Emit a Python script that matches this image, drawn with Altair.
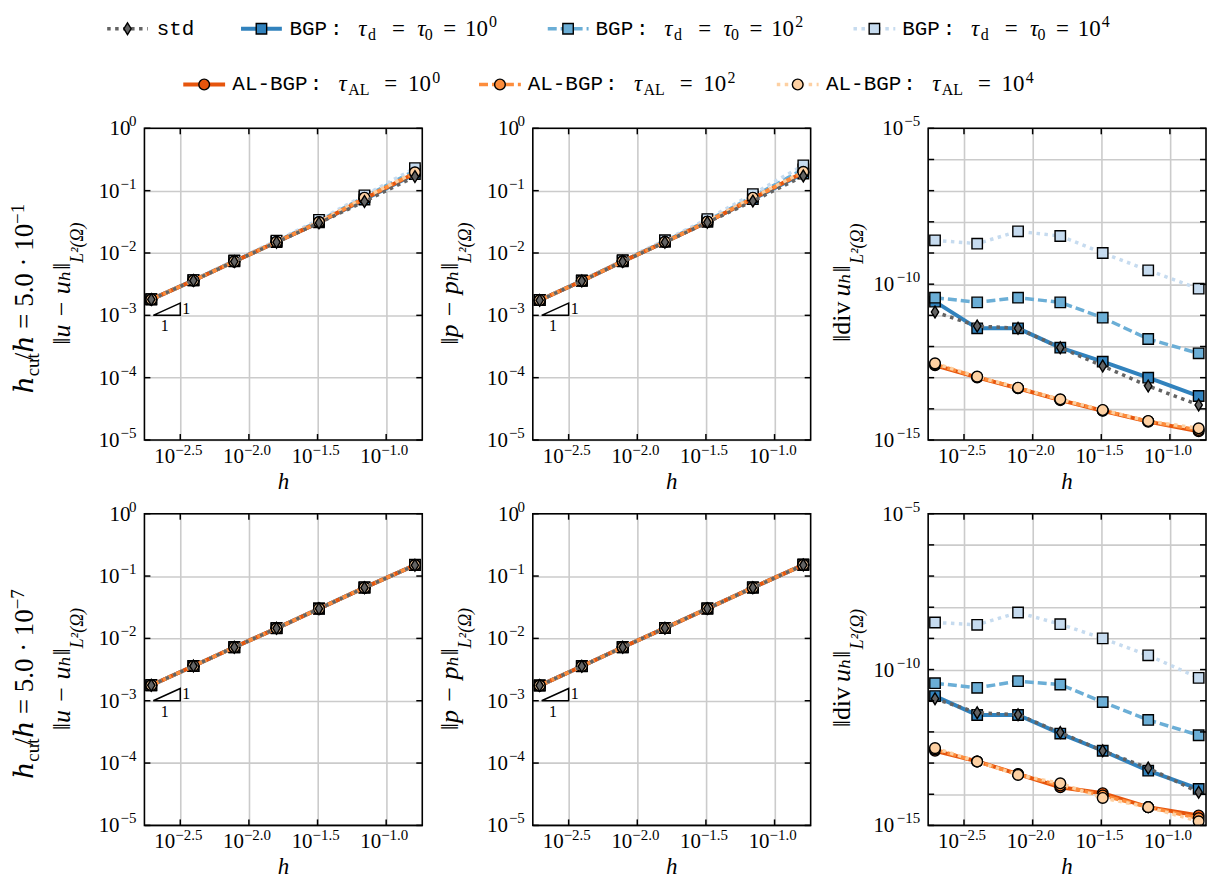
import altair as alt
import pandas as pd

# ---------------- data ----------------
h_vals = [1.945e-3, 3.945e-3, 7.83e-3, 1.59e-2, 3.24e-2, 6.95e-2, 1.62e-1]

# row 1 : h_cut/h = 5.0e-1
u1_std  = [1.80e-3, 3.62e-3, 7.30e-3, 1.49e-2, 3.04e-2, 6.7e-2, 1.68e-1]
u1_bgp0 = [1.80e-3, 3.63e-3, 7.34e-3, 1.50e-2, 3.10e-2, 7.2e-2, 1.85e-1]
u1_bgp2 = [1.80e-3, 3.65e-3, 7.45e-3, 1.54e-2, 3.25e-2, 7.9e-2, 2.10e-1]
u1_bgp4 = [1.81e-3, 3.68e-3, 7.60e-3, 1.58e-2, 3.40e-2, 8.4e-2, 2.30e-1]
u1_al0  = [1.80e-3, 3.62e-3, 7.32e-3, 1.50e-2, 3.10e-2, 7.4e-2, 1.90e-1]
u1_al2  = [1.80e-3, 3.62e-3, 7.33e-3, 1.50e-2, 3.12e-2, 7.6e-2, 1.94e-1]
u1_al4  = [1.80e-3, 3.63e-3, 7.34e-3, 1.51e-2, 3.14e-2, 7.7e-2, 1.97e-1]

p1_std  = [1.74e-3, 3.55e-3, 7.30e-3, 1.49e-2, 3.10e-2, 6.8e-2, 1.72e-1]
p1_bgp0 = [1.75e-3, 3.57e-3, 7.35e-3, 1.51e-2, 3.17e-2, 7.3e-2, 1.88e-1]
p1_bgp2 = [1.76e-3, 3.60e-3, 7.50e-3, 1.55e-2, 3.30e-2, 8.0e-2, 2.20e-1]
p1_bgp4 = [1.77e-3, 3.63e-3, 7.65e-3, 1.60e-2, 3.50e-2, 8.8e-2, 2.55e-1]
p1_al0  = [1.75e-3, 3.56e-3, 7.33e-3, 1.50e-2, 3.15e-2, 7.5e-2, 1.95e-1]
p1_al2  = [1.75e-3, 3.56e-3, 7.34e-3, 1.50e-2, 3.17e-2, 7.6e-2, 1.98e-1]
p1_al4  = [1.75e-3, 3.57e-3, 7.35e-3, 1.51e-2, 3.20e-2, 7.7e-2, 2.00e-1]

d1_std  = [1.28e-11, 4.55e-12, 3.83e-12, 9.18e-13, 2.37e-13, 5.41e-14, 1.33e-14]
d1_bgp0 = [2.75e-11, 3.83e-12, 3.83e-12, 9.18e-13, 3.26e-13, 1.00e-13, 2.58e-14]
d1_bgp2 = [3.69e-11, 2.61e-11, 3.69e-11, 2.61e-11, 8.41e-12, 1.74e-12, 6.04e-13]
d1_bgp4 = [2.55e-9, 1.99e-9, 4.95e-9, 3.51e-9, 1.00e-9, 2.78e-10, 7.18e-11]
d1_al0  = [2.51e-13, 1.02e-13, 4.57e-14, 1.91e-14, 8.71e-15, 3.89e-15, 1.91e-15]
d1_al2  = [2.69e-13, 1.05e-13, 4.68e-14, 1.95e-14, 8.91e-15, 3.98e-15, 2.09e-15]
d1_al4  = [2.88e-13, 1.08e-13, 4.78e-14, 2.02e-14, 9.18e-15, 4.07e-15, 2.37e-15]

# row 2 : h_cut/h = 5.0e-7
u2_std  = [1.77e-3, 3.60e-3, 7.20e-3, 1.45e-2, 2.99e-2, 6.50e-2, 1.49e-1]
u2_bgp0 = [1.77e-3, 3.60e-3, 7.21e-3, 1.45e-2, 3.00e-2, 6.52e-2, 1.50e-1]
u2_bgp2 = [1.77e-3, 3.61e-3, 7.22e-3, 1.46e-2, 3.01e-2, 6.55e-2, 1.51e-1]
u2_bgp4 = [1.78e-3, 3.61e-3, 7.23e-3, 1.46e-2, 3.02e-2, 6.58e-2, 1.52e-1]
u2_al0  = [1.77e-3, 3.60e-3, 7.20e-3, 1.45e-2, 2.99e-2, 6.51e-2, 1.50e-1]
u2_al2  = [1.77e-3, 3.60e-3, 7.20e-3, 1.45e-2, 3.00e-2, 6.51e-2, 1.50e-1]
u2_al4  = [1.77e-3, 3.60e-3, 7.21e-3, 1.45e-2, 3.00e-2, 6.52e-2, 1.50e-1]

p2_std  = [1.75e-3, 3.57e-3, 7.20e-3, 1.46e-2, 3.00e-2, 6.50e-2, 1.50e-1]
p2_bgp0 = [1.75e-3, 3.57e-3, 7.21e-3, 1.46e-2, 3.01e-2, 6.52e-2, 1.51e-1]
p2_bgp2 = [1.76e-3, 3.58e-3, 7.22e-3, 1.47e-2, 3.02e-2, 6.55e-2, 1.52e-1]
p2_bgp4 = [1.76e-3, 3.58e-3, 7.23e-3, 1.47e-2, 3.03e-2, 6.58e-2, 1.53e-1]
p2_al0  = [1.75e-3, 3.57e-3, 7.20e-3, 1.46e-2, 3.00e-2, 6.51e-2, 1.51e-1]
p2_al2  = [1.75e-3, 3.57e-3, 7.20e-3, 1.46e-2, 3.01e-2, 6.51e-2, 1.51e-1]
p2_al4  = [1.75e-3, 3.57e-3, 7.21e-3, 1.46e-2, 3.01e-2, 6.52e-2, 1.51e-1]

d2_std  = [1.16e-11, 4.14e-12, 3.57e-12, 9.53e-13, 2.48e-13, 6.92e-14, 1.16e-14]
d2_bgp0 = [1.41e-11, 3.49e-12, 3.49e-12, 8.85e-13, 2.48e-13, 5.69e-14, 1.48e-14]
d2_bgp2 = [3.66e-11, 2.60e-11, 4.25e-11, 3.32e-11, 9.06e-12, 2.42e-12, 7.83e-13]
d2_bgp4 = [3.24e-9, 2.73e-9, 6.76e-9, 2.86e-9, 1.00e-9, 2.86e-10, 5.42e-11]
d2_al0  = [2.48e-13, 1.13e-13, 4.46e-14, 1.67e-14, 1.08e-14, 3.85e-15, 2.08e-15]
d2_al2  = [2.75e-13, 1.12e-13, 4.37e-14, 1.91e-14, 9.12e-15, 3.85e-15, 1.70e-15]
d2_al4  = [3.02e-13, 1.12e-13, 4.17e-14, 2.24e-14, 7.59e-15, 3.85e-15, 1.35e-15]

row_mantissa = ["5.0", "5.0"]
row_exponent = ["\u22121", "\u22127"]

x_ticks = [10 ** -2.5, 10 ** -2.0, 10 ** -1.5, 10 ** -1.0]
x_tick_exp = ["\u22122.5", "\u22122.0", "\u22121.5", "\u22121.0"]
err_ticks = [1.0, 1e-1, 1e-2, 1e-3, 1e-4, 1e-5]
err_tick_exp = ["0", "\u22121", "\u22122", "\u22123", "\u22124", "\u22125"]
div_grid = [1e-5, 1e-6, 1e-7, 1e-8, 1e-9, 1e-10, 1e-11, 1e-12, 1e-13, 1e-14, 1e-15]
div_ticks = [1e-5, 1e-10, 1e-15]
div_tick_exp = ["\u22125", "\u221210", "\u221215"]

slope_h = [10 ** -2.697, 10 ** -2.5, 10 ** -2.5, 10 ** -2.697]
slope_v = [1e-3, 1e-3, 10 ** -2.803, 1e-3]

# ---------------- styling ----------------
W, H = 279, 313
XDOM = [10 ** -2.761, 10 ** -0.737]
SERIF = "Liberation Serif, DejaVu Serif, serif"
MONO = "Liberation Mono, DejaVu Sans Mono, monospace"
GRID_C = "#cbcbcb"
DIAMOND = "M0,-1L0.62,0L0,1L-0.62,0Z"
ORDER = ["bgp0", "bgp2", "bgp4", "al0", "al2", "al4", "std"]
DOT = [3.5, 4.5]
DASH = [9, 4]
STYLE = {
    "std":  dict(color="#636363", lw=3.5, dash=DOT,  shape=DIAMOND, size=140),
    "bgp0": dict(color="#3182bd", lw=4.0, dash=None, shape="square", size=110),
    "bgp2": dict(color="#6baed6", lw=3.5, dash=DASH, shape="square", size=110),
    "bgp4": dict(color="#c6dbef", lw=3.5, dash=DOT,  shape="square", size=110),
    "al0":  dict(color="#e6550d", lw=4.0, dash=None, shape="circle", size=115),
    "al2":  dict(color="#fd8d3c", lw=3.5, dash=DASH, shape="circle", size=115),
    "al4":  dict(color="#fdd0a2", lw=3.5, dash=DOT,  shape="circle", size=115),
}

ONE = pd.DataFrame({"k": [0]})


def label(x, y, text, size, style="normal", align="center", baseline="middle",
          angle=0, font=SERIF):
    kw = dict(align=align, baseline=baseline, fontSize=size, font=font,
              fontStyle=style, color="black")
    if angle:
        kw["angle"] = angle
    return alt.Chart(ONE).mark_text(**kw).encode(
        x=alt.value(x), y=alt.value(y), text=alt.value(text))


def line_kw(s):
    st = STYLE[s]
    kw = dict(color=st["color"], strokeWidth=st["lw"])
    if st["dash"]:
        kw["strokeDash"] = st["dash"]
    return kw


def point_kw(s):
    st = STYLE[s]
    return dict(shape=st["shape"], size=st["size"], filled=True, fill=st["color"],
                stroke="black", strokeWidth=1.4, opacity=1, fillOpacity=1,
                strokeOpacity=1)


def panel(vals, kind, row, col):
    is_div = kind == "div"
    ydom = [1e-15, 1e-5] if is_div else [1e-5, 1.0]
    ygrid = div_grid if is_div else err_ticks
    xs = alt.X("h:Q", scale=alt.Scale(type="log", domain=XDOM, nice=False),
               axis=alt.Axis(values=x_ticks, grid=True, labels=False, ticks=False,
                             domain=False, title=None, gridColor=GRID_C,
                             gridWidth=1.6, gridOpacity=1))
    ys = alt.Y("v:Q", scale=alt.Scale(type="log", domain=ydom, nice=False),
               axis=alt.Axis(values=ygrid, grid=True, labels=False, ticks=False,
                             domain=False, title=None, gridColor=GRID_C,
                             gridWidth=1.6, gridOpacity=1))
    layers = []
    for s in ORDER:
        df = pd.DataFrame({"h": h_vals, "v": vals[s]})
        layers.append(alt.Chart(df).mark_line(clip=True, **line_kw(s)).encode(x=xs, y=ys))
        layers.append(alt.Chart(df).mark_point(clip=True, **point_kw(s)).encode(x=xs, y=ys))

    # slope triangle
    if not is_div:
        tri = pd.DataFrame({"h": slope_h, "v": slope_v, "i": list(range(4))})
        layers.append(alt.Chart(tri).mark_line(color="black", strokeWidth=1.5).encode(
            x=xs, y=ys, order="i:O"))
        layers.append(alt.Chart(pd.DataFrame({"h": [slope_h[1]], "v": [10 ** -2.891]}))
                      .mark_text(align="left", baseline="middle", dx=2, fontSize=16,
                                 font=SERIF, color="black")
                      .encode(x=xs, y=ys, text=alt.value("1")))
        layers.append(alt.Chart(pd.DataFrame({"h": [10 ** -2.614], "v": [1e-3]}))
                      .mark_text(align="center", baseline="middle", dy=11, fontSize=16,
                                 font=SERIF, color="black")
                      .encode(x=xs, y=ys, text=alt.value("1")))

    # inward ticks on all four sides
    ytk = pd.DataFrame({"v": ygrid})
    xtk = pd.DataFrame({"h": x_ticks})
    layers.append(alt.Chart(ytk).mark_rule(color="black", strokeWidth=1.5).encode(
        y=ys, x=alt.value(0), x2=alt.value(6)))
    layers.append(alt.Chart(ytk).mark_rule(color="black", strokeWidth=1.5).encode(
        y=ys, x=alt.value(W - 6), x2=alt.value(W)))
    layers.append(alt.Chart(xtk).mark_rule(color="black", strokeWidth=1.5).encode(
        x=xs, y=alt.value(H - 6), y2=alt.value(H)))
    layers.append(alt.Chart(xtk).mark_rule(color="black", strokeWidth=1.5).encode(
        x=xs, y=alt.value(0), y2=alt.value(6)))

    # frame
    layers.append(alt.Chart(ONE).mark_rect(filled=False, stroke="black", strokeWidth=1.6)
                  .encode(x=alt.value(0), x2=alt.value(W), y=alt.value(0), y2=alt.value(H)))

    # x tick labels
    xl = pd.DataFrame({"h": x_ticks, "e": x_tick_exp})
    layers.append(alt.Chart(xl).mark_text(align="right", baseline="middle", dx=-5,
                                          fontSize=21, font=SERIF, color="black")
                  .encode(x=xs, y=alt.value(H + 17), text=alt.value("10")))
    layers.append(alt.Chart(xl).mark_text(align="left", baseline="middle", dx=-5,
                                          fontSize=15, font=SERIF, color="black")
                  .encode(x=xs, y=alt.value(H + 10), text="e:N"))

    # y tick labels
    if is_div:
        yl = pd.DataFrame({"v": div_ticks, "e": div_tick_exp})
    else:
        yl = pd.DataFrame({"v": err_ticks, "e": err_tick_exp})
    yl["n"] = yl["e"].str.len()
    base_x = {1: -14, 2: -25, 3: -34}
    for n, grp in yl.groupby("n"):
        layers.append(alt.Chart(grp).mark_text(align="right", baseline="middle", dy=1,
                                               fontSize=21, font=SERIF, color="black")
                      .encode(y=ys, x=alt.value(base_x[int(n)]), text=alt.value("10")))
    layers.append(alt.Chart(yl).mark_text(align="right", baseline="middle", dy=-7,
                                          fontSize=15, font=SERIF, color="black")
                  .encode(y=ys, x=alt.value(-8), text="e:N"))

    # x title
    layers.append(label(W / 2, H + 42, "h", 23, style="italic"))

    # y title
    if kind == "u" or kind == "p":
        main = "\u2016u \u2212 u\u2095\u2016" if kind == "u" else "\u2016p \u2212 p\u2095\u2016"
        layers.append(label(-75, 135, main, 26, style="italic", align="right",
                            baseline="alphabetic", angle=270))
        layers.append(label(-62, 135, "L\u00b2(\u03a9)", 18, style="italic", align="left",
                            baseline="alphabetic", angle=270))
    else:
        layers.append(label(-78, 174, "\u2016div", 26, align="right",
                            baseline="alphabetic", angle=270))
        layers.append(label(-78, 169, "u\u2095\u2016", 26, style="italic", align="left",
                            baseline="alphabetic", angle=270))
        layers.append(label(-65, 136, "L\u00b2(\u03a9)", 18, style="italic", align="left",
                            baseline="alphabetic", angle=270))

    # row label
    if col == 0:
        layers.append(label(-112, 249, "\u210e", 27, align="right",
                            baseline="alphabetic", angle=270))
        layers.append(label(-106, 249, "cut", 19, align="left",
                            baseline="alphabetic", angle=270))
        layers.append(label(-112, 96, "/\u210e = " + row_mantissa[row] + " \u00b7 10", 27,
                            align="right", baseline="alphabetic", angle=270))
        layers.append(label(-121, 96, row_exponent[row], 19, align="left",
                            baseline="alphabetic", angle=270))

    return alt.layer(*layers).properties(width=W, height=H)


def series(std, b0, b2, b4, a0, a2, a4):
    return {"std": std, "bgp0": b0, "bgp2": b2, "bgp4": b4, "al0": a0, "al2": a2, "al4": a4}


# ---------------- legend ----------------
OX = 145  # page x of the first plot's left edge
Y1, Y2 = 16, 72
LEG = [
    ("std", Y1, 107.6, 148.3, 128.0, 157.4, "std", ""),
    ("bgp0", Y1, 242.0, 283.0, 262.5, 290.6, "bgp", "0"),
    ("bgp2", Y1, 550.0, 591.0, 570.4, 598.0, "bgp", "2"),
    ("bgp4", Y1, 857.0, 899.0, 878.0, 905.9, "bgp", "4"),
    ("al0", Y2, 184.0, 226.0, 205.0, 233.3, "al", "0"),
    ("al2", Y2, 481.0, 523.0, 502.0, 529.9, "al", "2"),
    ("al4", Y2, 780.0, 822.0, 801.0, 829.4, "al", "4"),
]


def pieces(kind, e):
    if kind == "std":
        return [("mono", "std", 0)]
    if kind == "bgp":
        return [("mono", "BGP", 0), ("monoc", ":", 47.0), ("it", "\u03c4", 73.2),
                ("sub", "d", 82.8), ("rm", "=", 109.6), ("it", "\u03c4", 132.5),
                ("sub", "0", 140.0), ("rm", "=", 161.0), ("rm", "10", 187.8),
                ("sup", e, 204.5)]
    return [("mono", "AL-BGP", 0), ("monoc", ":", 84.0), ("it", "\u03c4", 110.7),
            ("sub", "AL", 127.0), ("rm", "=", 159.1), ("rm", "10", 187.8),
            ("sup", e, 204.6)]


def legend():
    layers = [
        alt.Chart(ONE).mark_rect(color="white").encode(
            x=alt.value(-137), x2=alt.value(-136), y=alt.value(0), y2=alt.value(1)),
    ]
    for s, y, x1, x2, xm, xt, kind, e in LEG:
        layers.append(alt.Chart(ONE).mark_rule(**line_kw(s)).encode(
            x=alt.value(x1 - OX), x2=alt.value(x2 - OX), y=alt.value(y)))
        layers.append(alt.Chart(ONE).mark_point(**point_kw(s)).encode(
            x=alt.value(xm - OX), y=alt.value(y)))
        for sty, t, dx in pieces(kind, e):
            x = xt - OX + dx
            if sty == "mono":
                layers.append(label(x, y, t, 21, align="left", font=MONO))
            elif sty == "monoc":
                layers.append(label(x, y, t, 21, font=MONO))
            elif sty == "it":
                layers.append(label(x, y, t, 23, style="italic"))
            elif sty == "rm":
                layers.append(label(x, y, t, 23))
            elif sty == "sub":
                layers.append(label(x, y + 6, t, 16))
            else:
                layers.append(label(x, y - 7, t, 16))
    return alt.layer(*layers).properties(width=W, height=116)


def spacer(w, h):
    return alt.Chart(ONE).mark_point(opacity=0).encode(
        x=alt.value(0), y=alt.value(0)).properties(width=w, height=h)


GAP1, GAP2 = 110.3, 117.7

p11 = panel(series(u1_std, u1_bgp0, u1_bgp2, u1_bgp4, u1_al0, u1_al2, u1_al4), "u", 0, 0)
p12 = panel(series(p1_std, p1_bgp0, p1_bgp2, p1_bgp4, p1_al0, p1_al2, p1_al4), "p", 0, 1)
p13 = panel(series(d1_std, d1_bgp0, d1_bgp2, d1_bgp4, d1_al0, d1_al2, d1_al4), "div", 0, 2)
p21 = panel(series(u2_std, u2_bgp0, u2_bgp2, u2_bgp4, u2_al0, u2_al2, u2_al4), "u", 1, 0)
p22 = panel(series(p2_std, p2_bgp0, p2_bgp2, p2_bgp4, p2_al0, p2_al2, p2_al4), "p", 1, 1)
p23 = panel(series(d2_std, d2_bgp0, d2_bgp2, d2_bgp4, d2_al0, d2_al2, d2_al4), "div", 1, 2)

items = [
    legend(), spacer(1, 116), spacer(1, 116), spacer(1, 116), spacer(1, 116),
    p11, spacer(GAP1, 1), p12, spacer(GAP2, 1), p13,
    spacer(1, 73.5), spacer(1, 73.5), spacer(1, 73.5), spacer(1, 73.5), spacer(1, 73.5),
    p21, spacer(GAP1, 1), p22, spacer(GAP2, 1), p23,
]

chart = alt.concat(*items, columns=5, spacing=0, bounds="flush", align="each").properties(
    padding=0, background="white"
).configure_view(strokeWidth=0)

chart.save("out.html", embed_options={"renderer": "svg", "actions": False})
